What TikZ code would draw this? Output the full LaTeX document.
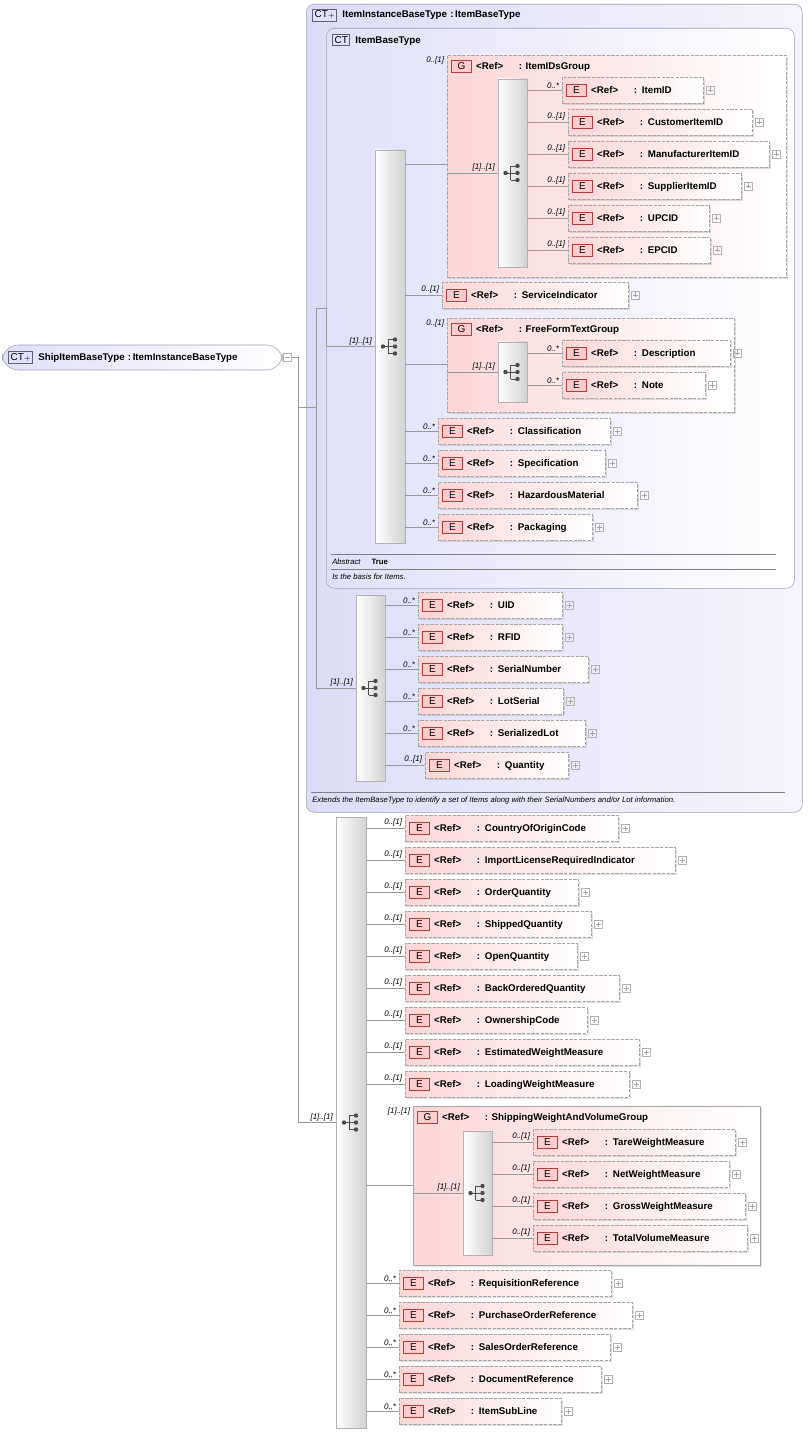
\documentclass[tikz,border=0pt]{standalone}
\usepackage{fontspec}
\setmainfont{Liberation Sans}
\usepackage{xcolor}
\usetikzlibrary{shapes,arrows,positioning,calc,shadows}

\definecolor{ctfill}{HTML}{DCDCF8}
\definecolor{ctline}{HTML}{A0A0B8}
\definecolor{efill}{HTML}{FBD6D6}
\definecolor{eline}{HTML}{B43C3C}
\setlength{\fboxrule}{0.5pt}
\newcommand{\badge}[1]{{\setlength{\fboxsep}{1.6pt}\fcolorbox{eline}{efill!80!red!60}{\makebox[11pt]{\fontsize{7.5}{8}\mdseries #1}}}}
\newcommand{\ctbadge}[1]{{\setlength{\fboxsep}{1.2pt}\fcolorbox{ctline!60!black}{ctfill!70!blue!30}{\fontsize{7.5}{8}\mdseries #1}}}

% element box: seq, name, x1, x2, y, multiplicity, text
\newcommand{\elm}[7]{%
  \pgfmathsetmacro\elw{(#4-#3)*0.75-6}
  \node[elem, text width=\elw pt] (#2) at (#3,#5) {\badge{E}\hspace{3.5pt}\makebox[32pt][l]{<Ref>}: #7};
  \node[plus] (#2p) at ($(#2.east)+(7,0)$) {};
  \draw[gray!70] ($(#2p.center)+(-2.5,0)$) -- ($(#2p.center)+(2.5,0)$) ($(#2p.center)+(0,-2.5)$) -- ($(#2p.center)+(0,2.5)$);
  \node[mult] at (#2.west) {#6};
  \draw[conn] (#1.east |- #2.west) -- (#2.west);
}
% sequence bar: name, x1, x2, y1, y2, multiplicity
\newcommand{\seqb}[6]{%
  \pgfmathsetmacro\sqw{(#3-#2)*0.75}
  \pgfmathsetmacro\sqh{(#5-#4)*0.75}
  \node[seqbox, minimum width=\sqw pt, minimum height=\sqh pt] (#1) at ({(#2+#3)/2},{(#4+#5)/2}) {};
  \begin{scope}[shift={(#1.center)}]
    \draw[black!70, line width=0.6pt] (-7,0) -- (-2,0) (-2,-7) -- (-2,7) (-2,-7) -- (5,-7) (-2,0) -- (5,0) (-2,7) -- (5,7);
    \foreach \p in {(-7,0),(5,-7),(5,0),(5,7)} \fill[black!70] \p circle[radius=2.2];
  \end{scope}
  \node[mult] at (#1.west) {#6};
}
% group box: name, x1, x2, y1, y2, extra style, title
\newcommand{\grp}[7]{%
  \pgfmathsetmacro\gw{(#3-#2)*0.75}
  \pgfmathsetmacro\gh{(#5-#4)*0.75}
  \node[group, #6, minimum width=\gw pt, minimum height=\gh pt] (#1) at (#2,#4) {};
  \node[title] (#1t) at ($(#1.north west)+(4,11)$) {\badge{G}\hspace{3.5pt}\makebox[32pt][l]{<Ref>}: #7};
}

\begin{document}
\begin{tikzpicture}[x=0.75pt, y=-0.75pt]
  % Define styles
  \tikzstyle{elem} = [anchor=west, draw=gray!70, dash pattern=on 2.5pt off 1pt, left color=efill, right color=white, minimum height=19.5pt, inner xsep=3pt, inner ysep=0pt, align=left, font=\fontsize{7.3}{8}\bfseries, drop shadow={opacity=.25, shadow xshift=1.2pt, shadow yshift=-1.2pt}]
  \tikzstyle{group} = [anchor=north west, draw=gray!70, dash pattern=on 2.5pt off 1pt, left color=efill, right color=white, drop shadow={opacity=.25, shadow xshift=1.5pt, shadow yshift=-1.5pt}]
  \tikzstyle{seqbox} = [draw=gray!60, left color=white, right color=gray!35, inner sep=0pt]
  \tikzstyle{plus} = [draw=gray!60, minimum size=6pt, inner sep=0pt]
  \tikzstyle{mult} = [anchor=south east, font=\fontsize{6}{6}\itshape, inner sep=1pt, xshift=-1pt]
  \tikzstyle{gmult} = [anchor=north east, font=\fontsize{6}{6}\itshape, inner sep=1pt, xshift=-1pt]
  \tikzstyle{title} = [anchor=west, font=\fontsize{7.3}{8}\bfseries, inner sep=0pt]
  \tikzstyle{conn} = [gray!80, line width=0.4pt]
  \tikzstyle{ctbox} = [anchor=north west, draw=ctline, rounded corners=6pt, left color=ctfill, right color=ctfill!30, inner sep=0pt]

  \useasboundingbox (0,0) rectangle (807,1433);

  % Root
  \node[draw=ctline, rounded corners=12pt, left color=ctfill!90, right color=white, minimum width=210pt, minimum height=18.75pt, anchor=west, inner sep=0pt] (root) at (2,357.5) {};
  \node[title] (roott) at ($(root.west)+(6,0)$) {\ctbadge{CT$\scriptscriptstyle+$}\hspace{4pt}ShipItemBaseType\,\,:\,ItemInstanceBaseType};
  \node[plus] (rootp) at ($(root.east)+(5,0)$) {};
  \draw[gray!70] ($(rootp.center)+(-2.5,0)$) -- ($(rootp.center)+(2.5,0)$);

  % Outer and inner complex types
  \node[ctbox, minimum width=372pt, minimum height=606pt] (ct1) at (306,4) {};
  \node[title] (ct1t) at (312,15) {\ctbadge{CT$\scriptscriptstyle+$}\hspace{4pt}ItemInstanceBaseType\,\,:\,ItemBaseType};
  \draw[gray] (311,792) -- (785,792);
  \node[anchor=west, font=\fontsize{5.8}{6}\itshape, inner sep=0pt] (ct1d) at (312,800) {Extends the ItemBaseType to identify a set of Items along with their SerialNumbers and/or Lot information.};

  \node[ctbox, minimum width=351pt, minimum height=420pt, left color=ctfill!90, right color=white] (ct2) at (326,28) {};
  \node[title] (ct2t) at (332,40) {\ctbadge{CT}\hspace{4pt}ItemBaseType};
  \draw[gray] (331,554) -- (776,554) (331,569) -- (776,569);
  \node[anchor=west, font=\fontsize{5.8}{6}, inner sep=0pt] (abs) at (332,562) {\textit{Abstract}\hspace{8pt}\textbf{True}};
  \node[anchor=west, font=\fontsize{5.8}{6}\itshape, inner sep=0pt] (isb) at (332,577) {Is the basis for Items.};

  % Sequences
  \seqb{s1}{375}{405}{150}{543}{[1]..[1]}
  \seqb{s2}{356}{385}{595}{781}{[1]..[1]}
  \seqb{s3}{336}{366}{817}{1428}{[1]..[1]}

  % Tree lines from root
  \coordinate (tr) at (298,357.5);
  \coordinate (tk) at (316,407);
  \coordinate (tb) at (326,308);
  \draw[conn] (rootp.east) -- (tr) |- (s3.west);
  \draw[conn] (tr |- tk) -- (tk);
  \draw[conn] (tk |- tb) -- (tb) |- (s1.west);
  \draw[conn] (tk |- tb) |- (s2.west);

  % ItemBaseType content
  \grp{g1}{447}{786}{55}{277}{}{ItemIDsGroup}
  \node[gmult] at (g1.north west) {0..[1]};
  \draw[conn] (s1.east |- 0,164) -- (g1.west |- 0,164);
  \seqb{g1s}{498}{527}{79}{267}{[1]..[1]}
  \draw[conn] (g1.west |- g1s.west) -- (g1s.west);
  \elm{g1s}{itemid}{562}{703}{90}{0..*}{ItemID}
  \elm{g1s}{custid}{568}{752}{122}{0..[1]}{CustomerItemID}
  \elm{g1s}{manid}{568}{769}{154}{0..[1]}{ManufacturerItemID}
  \elm{g1s}{supid}{568}{741}{186}{0..[1]}{SupplierItemID}
  \elm{g1s}{upcid}{568}{709}{218}{0..[1]}{UPCID}
  \elm{g1s}{epcid}{568}{710}{250}{0..[1]}{EPCID}

  \elm{s1}{servind}{442}{628}{295}{0..[1]}{ServiceIndicator}

  \grp{g2}{447}{734}{318}{412}{}{FreeFormTextGroup}
  \node[gmult] at (g2.north west) {0..[1]};
  \draw[conn] (s1.east |- 0,364) -- (g2.west |- 0,364);
  \seqb{g2s}{498}{527}{342}{402}{[1]..[1]}
  \draw[conn] (g2.west |- g2s.west) -- (g2s.west);
  \elm{g2s}{descr}{562}{730}{353}{0..*}{Description}
  \elm{g2s}{note}{562}{705}{385}{0..*}{Note}

  \elm{s1}{classif}{438}{610}{431}{0..*}{Classification}
  \elm{s1}{specif}{438}{605}{463}{0..*}{Specification}
  \elm{s1}{hazmat}{438}{637}{495}{0..*}{HazardousMaterial}
  \elm{s1}{packag}{438}{592}{527}{0..*}{Packaging}

  % ItemInstanceBaseType content
  \elm{s2}{uid}{418}{562}{605}{0..*}{UID}
  \elm{s2}{rfid}{418}{562}{637}{0..*}{RFID}
  \elm{s2}{sernum}{418}{588}{669}{0..*}{SerialNumber}
  \elm{s2}{lotser}{418}{563}{701}{0..*}{LotSerial}
  \elm{s2}{serlot}{418}{585}{733}{0..*}{SerializedLot}
  \elm{s2}{qty}{425}{568}{765}{0..[1]}{Quantity}

  % ShipItemBaseType content
  \elm{s3}{origin}{405}{618}{828}{0..[1]}{CountryOfOriginCode}
  \elm{s3}{implic}{405}{675}{860}{0..[1]}{ImportLicenseRequiredIndicator}
  \elm{s3}{ordqty}{405}{578}{892}{0..[1]}{OrderQuantity}
  \elm{s3}{shpqty}{405}{591}{924}{0..[1]}{ShippedQuantity}
  \elm{s3}{opnqty}{405}{577}{956}{0..[1]}{OpenQuantity}
  \elm{s3}{boqty}{405}{619}{988}{0..[1]}{BackOrderedQuantity}
  \elm{s3}{owncode}{405}{587}{1020}{0..[1]}{OwnershipCode}
  \elm{s3}{estwt}{405}{639}{1052}{0..[1]}{EstimatedWeightMeasure}
  \elm{s3}{loadwt}{405}{629}{1084}{0..[1]}{LoadingWeightMeasure}

  \grp{g3}{413}{760}{1106}{1265}{solid}{ShippingWeightAndVolumeGroup}
  \node[gmult] at (g3.north west) {[1]..[1]};
  \draw[conn] (s3.east |- 0,1185) -- (g3.west |- 0,1185);
  \seqb{g3s}{463}{492}{1131}{1255}{[1]..[1]}
  \draw[conn] (g3.west |- g3s.west) -- (g3s.west);
  \elm{g3s}{tarewt}{533}{735}{1142}{0..[1]}{TareWeightMeasure}
  \elm{g3s}{netwt}{533}{729}{1174}{0..[1]}{NetWeightMeasure}
  \elm{g3s}{grosswt}{533}{745}{1206}{0..[1]}{GrossWeightMeasure}
  \elm{g3s}{totvol}{533}{747}{1238}{0..[1]}{TotalVolumeMeasure}

  \elm{s3}{reqref}{399}{611}{1283}{0..*}{RequisitionReference}
  \elm{s3}{poref}{399}{632}{1315}{0..*}{PurchaseOrderReference}
  \elm{s3}{soref}{399}{610}{1347}{0..*}{SalesOrderReference}
  \elm{s3}{docref}{399}{601}{1379}{0..*}{DocumentReference}
  \elm{s3}{subline}{399}{561}{1411}{0..*}{ItemSubLine}

\end{tikzpicture}
\end{document}
